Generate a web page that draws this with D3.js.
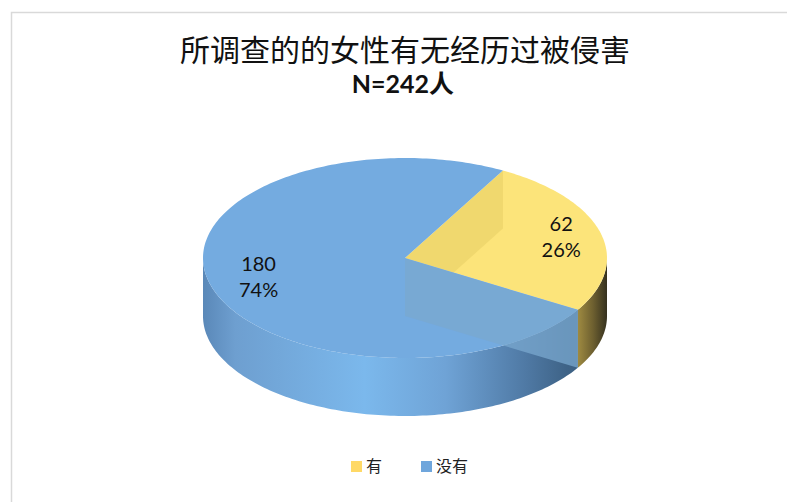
<!DOCTYPE html>
<meta charset="utf-8">
<style>
body { margin: 0; background: #fff; }
text { font-family: Lato, "Noto Sans CJK SC", sans-serif; }
.title { font: 400 30px "Noto Sans CJK SC", sans-serif; fill: #111; }
.sub { font: bold 25px Lato, "Noto Sans CJK SC", sans-serif; fill: #111; }
.lbl { font-size: 20px; fill: #111; }
.leg { font: 16px "Noto Sans CJK SC", sans-serif; fill: #222; }
</style>
<svg width="787" height="502"></svg>
<script src="https://d3js.org/d3.v7.min.js"></script>
<script>

// data
var categories = ["有", "没有"];
var counts = [62, 180];
var percents = ["26%", "74%"];
var titleText = "所调查的的女性有无经历过被侵害";
var subText = "N=242人";

var topColors = ["#FCE47A", "#74ABE0"];

var svg = d3.select("svg");

// frame (only left + top show in the shot)
svg.append("path")
  .attr("d", "M11.5,502 V12.5 H787")
  .attr("fill", "none")
  .attr("stroke", "#D9D9D9")
  .attr("stroke-width", 1.5);

svg.append("text").attr("class", "title")
  .attr("x", 405).attr("y", 61).attr("text-anchor", "middle")
  .text(titleText);
svg.append("text").attr("class", "sub")
  .attr("x", 403).attr("y", 93).attr("text-anchor", "middle")
  .text(subText);

// 3d pie geometry
var cx = 405, cy = 258, rx = 202, ry = 100, depth = 58;
var x = d3.scaleLinear().domain([-1, 1]).range([cx - rx, cx + rx]);
var y = d3.scaleLinear().domain([-1, 1]).range([cy - ry, cy + ry]);

function pt(a, r, dy) {
  r = r == null ? 1 : r;
  return [x(r * Math.sin(a)), y(-r * Math.cos(a)) + (dy || 0)];
}
function arcPts(a0, a1, dy) {
  var n = Math.max(2, Math.ceil(Math.abs(a1 - a0) / 0.02));
  return d3.range(n + 1).map(function(i) { return pt(a0 + (a1 - a0) * i / n, 1, dy); });
}
var line = d3.line();

var rad = Math.PI / 180;
var pie = d3.pie().sort(null).startAngle(29 * rad).endAngle(29 * rad + 2 * Math.PI);
var arcs = pie(counts);

var defs = svg.append("defs");
var gBlue = defs.append("linearGradient").attr("id", "sideBlue")
  .attr("gradientUnits", "userSpaceOnUse")
  .attr("x1", cx - rx).attr("x2", cx + rx).attr("y1", 0).attr("y2", 0);
[[0, "#5A88B8"], [0.08, "#6E9FD0"], [0.4, "#7BB8EC"], [0.6, "#6FA3D6"], [0.8, "#4F79A4"], [0.9, "#3E6387"], [1, "#3A5A7A"]]
  .forEach(function(s) { gBlue.append("stop").attr("offset", s[0]).attr("stop-color", s[1]); });
var gYel = defs.append("linearGradient").attr("id", "sideYel")
  .attr("gradientUnits", "userSpaceOnUse")
  .attr("x1", cx + rx * 0.86).attr("x2", cx + rx).attr("y1", 0).attr("y2", 0);
[[0, "#9C8840"], [0.5, "#6E6030"], [1, "#35311F"]]
  .forEach(function(s) { gYel.append("stop").attr("offset", s[0]).attr("stop-color", s[1]); });

var sideFill = ["url(#sideYel)", "url(#sideBlue)"];

// outer sides (front half only: 90deg .. 270deg)
arcs.forEach(function(d, i) {
  var a0 = Math.max(d.startAngle, 90 * rad), a1 = Math.min(d.endAngle, 270 * rad);
  if (a1 <= a0) return;
  var pts = arcPts(a0, a1, 0).concat(arcPts(a1, a0, depth));
  svg.append("path").attr("d", line(pts) + "Z").attr("fill", sideFill[i]);
});

// top faces
arcs.forEach(function(d, i) {
  var pts = [pt(0, 0)].concat(arcPts(d.startAngle, d.endAngle, 0));
  svg.append("path").attr("d", line(pts) + "Z").attr("fill", topColors[i]);
});

// inner walls seen through the top (as in the original render)
defs.append("clipPath").attr("id", "clipYel").append("path")
  .attr("d", line([pt(0, 0)].concat(arcPts(arcs[0].startAngle, arcs[0].endAngle, 0))) + "Z");
var s0 = arcs[0].startAngle, e0 = arcs[0].endAngle;
svg.append("path")
  .attr("d", line([pt(0, 0), pt(s0), pt(s0, 1, depth), pt(0, 0, depth)]) + "Z")
  .attr("clip-path", "url(#clipYel)")
  .attr("fill", "#E2C960").attr("opacity", 0.45);
svg.append("path")
  .attr("d", line([pt(0, 0), pt(e0), pt(e0, 1, depth), pt(0, 0, depth)]) + "Z")
  .attr("fill", "#7AA8CF").attr("opacity", 0.75);

// data labels
var labelR = [0.8, 0.75];
arcs.forEach(function(d, i) {
  var p = pt((d.startAngle + d.endAngle) / 2, labelR[i]);
  var t = svg.append("text").attr("class", "lbl").attr("text-anchor", "middle");
  t.append("tspan").attr("x", p[0]).attr("y", p[1] - 6).text(counts[i]);
  t.append("tspan").attr("x", p[0]).attr("y", p[1] + 20).text(percents[i]);
});

// legend
var legX = [351, 421];
categories.forEach(function(c, i) {
  svg.append("rect").attr("x", legX[i]).attr("y", 461).attr("width", 11).attr("height", 11)
    .attr("fill", i ? "#6FA6DC" : "#FFD966");
  svg.append("text").attr("class", "leg").attr("x", legX[i] + 15).attr("y", 472).text(c);
});

</script>
